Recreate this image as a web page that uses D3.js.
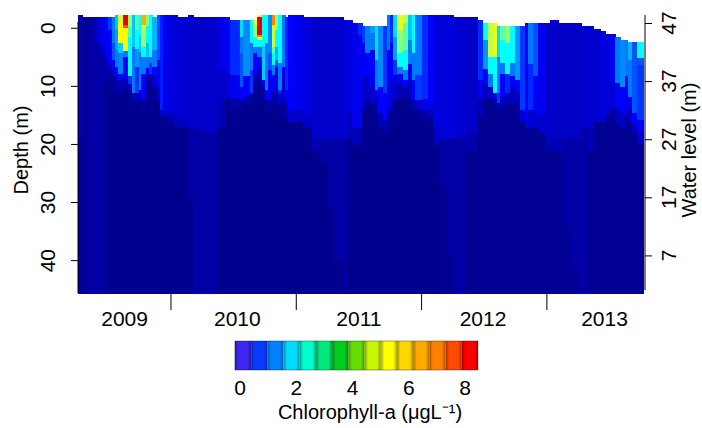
<!DOCTYPE html>
<html>
<head>
<meta charset="utf-8">
<script src="https://cdn.jsdelivr.net/npm/d3@7"></script>
<style>
  body { margin: 0; background: #fff; }
  svg { display: block; font-family: "Liberation Sans", Arial, sans-serif; }
  svg text { fill: #000; font-family: "Liberation Sans", Arial, sans-serif; }
</style>
</head>
<body>
<svg id="chart" width="702" height="428"></svg>
<script>
// ===== data =====
// column start, in decimal years; each column runs to the next start
const colStart = [
  2009.258, 2009.290, 2009.338, 2009.394, 2009.434, 2009.473, 2009.497, 2009.529, 2009.553, 2009.577,
  2009.617, 2009.657, 2009.689, 2009.713, 2009.745, 2009.761, 2009.801, 2009.825, 2009.849, 2009.889,
  2009.912, 2009.936, 2009.976, 2010.032, 2010.056, 2010.136, 2010.176, 2010.272, 2010.367, 2010.431,
  2010.471, 2010.551, 2010.575, 2010.631, 2010.655, 2010.687, 2010.726, 2010.750, 2010.774, 2010.806,
  2010.830, 2010.854, 2010.886, 2010.910, 2010.934, 2010.990, 2011.054, 2011.126, 2011.189, 2011.245,
  2011.301, 2011.373, 2011.405, 2011.445, 2011.493, 2011.525, 2011.549, 2011.589, 2011.628, 2011.652,
  2011.692, 2011.724, 2011.748, 2011.772, 2011.804, 2011.852, 2011.892, 2011.924, 2011.948, 2012.004,
  2012.051, 2012.091, 2012.147, 2012.203, 2012.251, 2012.347, 2012.450, 2012.490, 2012.530, 2012.570,
  2012.602, 2012.626, 2012.666, 2012.706, 2012.746, 2012.786, 2012.826, 2012.849, 2012.889, 2012.929,
  2012.985, 2013.025, 2013.089, 2013.121, 2013.185, 2013.241, 2013.280, 2013.320, 2013.368, 2013.424,
  2013.464, 2013.504, 2013.544, 2013.584, 2013.624, 2013.647, 2013.679, 2013.719
];
const colEnd = 2013.767;

// water level at the column (m)
const waterLevel = [
  48.4, 48.1, 48.1, 48.1, 48.1, 48.1, 48.1, 48.1, 48.4, 48.4,
  48.4, 48.4, 48.4, 48.4, 48.4, 48.4, 48.4, 48.4, 48.1, 48.4,
  48.4, 48.4, 48.4, 48.4, 48.1, 48.4, 48.1, 48.1, 48.1, 48.1,
  47.5, 47.5, 47.5, 47.5, 47.5, 48.4, 48.4, 48.4, 48.4, 48.4,
  48.4, 48.4, 48.4, 48.1, 48.4, 48.4, 48.1, 48.1, 48.1, 48.1,
  48.1, 47.5, 47.5, 46.95, 46.95, 46.5, 46.5, 46.5, 46.5, 46.5,
  46.5, 48.4, 48.4, 48.4, 48.4, 48.4, 48.4, 48.4, 48.4, 48.4,
  48.4, 48.4, 48.4, 48.4, 48.1, 48.1, 47.5, 46.95, 46.95, 46.95,
  46.5, 46.5, 46.5, 46.5, 46.5, 46.5, 46.95, 46.95, 46.95, 46.95,
  46.95, 47.5, 46.95, 46.95, 46.95, 46.95, 46.5, 46.5, 46.0, 45.6,
  45.1, 45.1, 44.6, 44.1, 44.1, 43.8, 43.8, 43.7
];

// chlorophyll-a profile per column: [value (ug/L), bottom (m below the 47 m mark)] from the surface down
const chlRuns = [
  [[0.35,20],[0.2,47]],
  [[0.2,47]],
  [[0.3,47]],
  [[0.55,3.4],[0.3,47]],
  [[0.8,4],[0.5,5.5],[0.3,12],[0.25,47]],
  [[1.0,5.9],[0.55,8],[0.3,10],[0.12,47]],
  [[1.2,1.2],[1.0,6.9],[0.55,8.3],[0.25,11],[0.12,47]],
  [[1.45,3.4],[1.3,6.4],[1.0,8],[0.55,9.2],[0.25,12],[0.12,47]],
  [[1.85,1.1],[1.65,4.6],[1.45,7.5],[1.0,9],[0.5,10],[0.2,13],[0.12,47]],
  [[4.6,0],[5.5,3.5],[1.9,5.2],[1.5,8.7],[1.0,9.8],[0.4,12],[0.12,47]],
  [[8.5,0.3],[7.5,0.9],[5.5,4.9],[1.45,5.8],[1.0,9.5],[0.5,11],[0.12,47]],
  [[3.7,0.6],[2.9,2.4],[2.2,9.2],[1.2,10.5],[0.4,12],[0.12,47]],
  [[1.85,4.1],[1.45,12],[0.55,13.3],[0.12,47]],
  [[2.8,1.2],[2.2,4.4],[1.6,7.5],[1.2,12],[0.5,13.5],[0.12,47]],
  [[2.2,2],[1.85,5],[1.45,11.5],[0.5,13],[0.12,47]],
  [[6.5,0.3],[4.4,1.8],[3.7,4.1],[2.2,5.8],[1.45,8.7],[1.0,13.3],[0.3,15],[0.12,47]],
  [[3.4,0.5],[2.2,3.5],[1.85,5.8],[1.45,7.8],[1.0,9.2],[0.3,12],[0.12,47]],
  [[2.2,5.8],[1.45,6.9],[1.2,8.7],[0.55,9.5],[0.2,12],[0.12,47]],
  [[1.75,4.6],[1.45,7.5],[1.0,9],[0.55,11],[0.2,14],[0.12,47]],
  [[1.3,6.4],[1.0,11],[0.5,13],[0.12,47]],
  [[1.1,15],[0.6,16],[0.12,47]],
  [[0.85,15],[0.53,16],[0.12,47]],
  [[0.7,15.5],[0.45,17],[0.12,47]],
  [[0.62,16.5],[0.4,18],[0.12,47]],
  [[0.62,16.5],[0.4,18],[0.12,47]],
  [[0.55,18],[0.3,30],[0.12,47]],
  [[0.55,18.5],[0.3,47]],
  [[0.55,19],[0.3,47]],
  [[0.75,8],[0.55,13],[0.4,18],[0.12,47]],
  [[1.0,8.5],[0.6,13],[0.12,47]],
  [[1.15,9],[0.85,13],[0.3,15],[0.12,47]],
  [[2.0,2.4],[1.45,5.2],[1.3,11],[1.0,13.3],[0.3,15],[0.12,47]],
  [[1.55,9.2],[1.0,12.7],[0.3,14],[0.12,47]],
  [[2.2,3.5],[1.45,8.1],[1.2,12.1],[0.3,14],[0.12,47]],
  [[5.0,0.3],[3.7,2.4],[2.2,4.1],[1.45,5.2],[1.0,9],[0.3,12],[0.12,47]],
  [[5.5,-1.1],[8.5,2.1],[7.0,2.4],[5.5,2.9],[2.2,4.1],[1.45,5.8],[1.0,8.1],[0.4,10],[0.12,47]],
  [[2.2,4],[1.9,9.8],[1.0,11],[0.3,13],[0.12,47]],
  [[2.2,3.5],[1.45,11.5],[1.0,13.3],[0.3,15],[0.12,47]],
  [[1.55,5.2],[1.3,8.1],[1.0,13.3],[0.3,15],[0.12,47]],
  [[7.0,0.3],[5.9,0.6],[4.4,4.1],[3.1,5.2],[2.2,7.2],[1.45,9],[0.85,12],[0.3,14],[0.12,47]],
  [[3.7,1.2],[2.2,4.1],[1.75,6.4],[1.3,7.5],[0.85,11],[0.3,14],[0.12,47]],
  [[2.2,6.9],[1.45,11.5],[1.15,12.1],[0.6,14],[0.2,16],[0.12,47]],
  [[1.45,7.5],[1.0,9.2],[0.6,13],[0.2,16],[0.12,47]],
  [[1.15,11.5],[0.85,14],[0.4,16],[0.12,47]],
  [[1.0,15],[0.6,17],[0.12,47]],
  [[0.8,15],[0.55,17],[0.12,47]],
  [[0.7,16.1],[0.5,18],[0.12,47]],
  [[0.55,20],[0.4,22],[0.12,47]],
  [[0.55,20],[0.3,24],[0.12,47]],
  [[0.55,20],[0.3,32],[0.12,47]],
  [[0.55,20],[0.3,41],[0.12,47]],
  [[0.68,20],[0.3,47]],
  [[0.68,15],[0.45,20],[0.12,47]],
  [[0.8,18],[0.45,21],[0.12,47]],
  [[1.15,2],[0.9,18],[0.45,21],[0.12,47]],
  [[1.2,3.5],[1.0,9],[0.55,15],[0.12,47]],
  [[1.45,5.2],[1.0,9.2],[0.55,13.3],[0.12,47]],
  [[1.65,1.8],[1.45,4.6],[1.0,11],[0.55,14],[0.12,47]],
  [[2.0,6.4],[1.45,11.5],[1.0,12.7],[0.4,15],[0.12,47]],
  [[1.55,11],[1.0,15.5],[0.4,18],[0.12,47]],
  [[1.2,12.1],[1.0,16.7],[0.4,19],[0.12,47]],
  [[1.45,4.6],[1.0,9.2],[0.8,15],[0.3,18],[0.12,47]],
  [[1.15,3.5],[1.0,10],[0.6,15],[0.12,47]],
  [[2.0,2.4],[1.65,6.4],[1.2,9],[0.6,13],[0.12,47]],
  [[4.8,1.2],[3.7,2.4],[3.4,5.2],[2.2,7.5],[1.45,8.7],[1.0,10.4],[0.4,13],[0.12,47]],
  [[4.2,0],[3.1,4.6],[2.2,8.1],[1.45,9.8],[1.0,11],[0.4,13],[0.12,47]],
  [[1.85,3],[1.45,7],[1.0,10],[0.4,13],[0.12,47]],
  [[2.2,5.2],[1.45,9.8],[1.0,13.3],[0.4,15],[0.12,47]],
  [[1.45,9],[1.2,13.3],[0.55,15],[0.12,47]],
  [[1.15,13],[0.8,15],[0.3,17],[0.12,47]],
  [[1.0,14],[0.6,16],[0.12,47]],
  [[0.7,18],[0.5,21],[0.12,47]],
  [[0.68,20],[0.3,28],[0.15,47]],
  [[0.68,20],[0.3,40],[0.15,47]],
  [[0.6,20],[0.3,47]],
  [[0.53,19],[0.35,22],[0.15,47]],
  [[1.15,9.8],[0.8,13],[0.4,16],[0.15,47]],
  [[2.2,2.9],[1.6,8],[1.0,10.5],[0.4,13],[0.15,47]],
  [[4.4,5.8],[2.2,8.7],[1.45,11],[0.55,13],[0.15,47]],
  [[4.8,5.8],[2.2,12],[1.0,13],[0.3,15],[0.15,47]],
  [[2.0,5.8],[1.45,12],[1.2,13.8],[0.3,15],[0.15,47]],
  [[3.1,2.9],[2.2,6.9],[1.45,8.7],[1.0,12.7],[0.4,15],[0.15,47]],
  [[3.7,3.5],[2.2,8.7],[1.15,12],[0.5,14],[0.15,47]],
  [[2.2,6.9],[1.45,9.2],[1.0,11],[0.45,14],[0.15,47]],
  [[1.6,9.8],[1.0,12.1],[0.45,14],[0.15,47]],
  [[1.2,15],[0.7,17],[0.15,47]],
  [[1.0,16.7],[0.6,18],[0.15,47]],
  [[1.45,7],[1.15,15],[0.6,18],[0.15,47]],
  [[1.3,9.2],[1.0,15],[0.6,18],[0.15,47]],
  [[0.85,16],[0.55,19],[0.15,47]],
  [[0.55,20],[0.4,22],[0.15,47]],
  [[0.55,20],[0.4,22],[0.15,47]],
  [[0.53,20],[0.4,22],[0.15,47]],
  [[0.53,20],[0.3,35],[0.15,47]],
  [[0.53,20],[0.3,42],[0.15,47]],
  [[0.53,20],[0.3,47]],
  [[0.6,18],[0.3,47]],
  [[0.6,18],[0.4,22],[0.15,47]],
  [[0.6,17],[0.15,47]],
  [[0.68,17],[0.15,47]],
  [[0.68,16],[0.15,47]],
  [[0.85,10.4],[0.6,15],[0.15,47]],
  [[1.45,10.4],[1.0,14.4],[0.5,17],[0.15,47]],
  [[1.55,11],[1.0,15.5],[0.5,18],[0.15,47]],
  [[1.45,9.2],[1.0,12.7],[0.6,16],[0.15,47]],
  [[1.75,6.4],[1.45,12.7],[1.0,14.4],[0.5,17],[0.15,47]],
  [[1.3,15.5],[1.0,17.3],[0.5,19],[0.15,47]],
  [[2.2,6.1],[1.3,7.2],[1.2,16.7],[1.0,19],[0.55,21],[0.15,47]]
];

const depthTicks = [0, 10, 20, 30, 40];
const levelTicks = [47, 37, 27, 17, 7];
const refLevel = 47;      // top of the water-level axis
const depthOffset = 0.9;  // depth 0 on the left axis sits this far below the 47 m mark
const yearBreaks = [2010, 2011, 2012, 2013];
const yearLabels = ["2009", "2010", "2011", "2012", "2013"];
const yearLabelAt = [2009.63, 2010.53, 2011.5, 2012.49, 2013.46];

// heat map colour ramp
const chlStops = [0, 0.1, 0.3, 0.5, 0.75, 1.0, 1.4, 1.8, 2.2, 3.4, 4.8, 5.5, 6.3, 7.2, 8.5];
const chlColors = ["#000080", "#00008c", "#0000a5", "#0000c3", "#0000e6", "#0000ff", "#006eff",
  "#00beff", "#00ffff", "#82ff82", "#e6ff1e", "#ffff00", "#ffbe00", "#ff6e00", "#e60000"];

// colour key
const legendColors = ["#3c28f0", "#0a3cff", "#0082ff", "#00dcff", "#00ffcc", "#00e87a", "#00cc1e",
  "#66dd00", "#c8f500", "#ffff00", "#ffd700", "#ffaa00", "#ff7f00", "#ff4a00", "#ff0000"];
const legendTicks = [0, 2, 4, 6, 8];
const legendRange = [-0.18, 8.46];

// ===== layout =====
const svg = d3.select("#chart");
const plot = { left: 78, right: 643, top: 15, bottom: 293 };
const tickFont = 21;
const titleFont = 20;

const x = d3.scaleLinear().domain([colStart[0], colEnd]).range([plot.left, plot.right]);
const y = d3.scaleLinear().domain([-1.38, 46.47]).range([plot.top, plot.bottom]);
const yLevel = d3.scaleLinear().domain([refLevel + 1.38, refLevel - 46.47]).range([plot.top, plot.bottom]);
const yDepth = (d) => y(d + depthOffset);
const color = d3.scaleLinear().domain(chlStops).range(chlColors).clamp(true);

// ---- heat map cells ----
const cells = [];
colStart.forEach((t0, i) => {
  const t1 = i < colStart.length - 1 ? colStart[i + 1] : colEnd;
  let top = refLevel - waterLevel[i];
  chlRuns[i].forEach(([v, bottom]) => {
    const b = Math.min(bottom, y.domain()[1]);
    if (b > top) cells.push({ t0, t1, d0: top, d1: b, v });
    top = Math.max(top, b);
  });
});

svg.append("g")
  .attr("shape-rendering", "crispEdges")
  .selectAll("rect")
  .data(cells)
  .join("rect")
  .attr("x", (d) => x(d.t0))
  .attr("width", (d) => x(d.t1) - x(d.t0) + 0.5)
  .attr("y", (d) => y(d.d0))
  .attr("height", (d) => y(d.d1) - y(d.d0) + 0.5)
  .attr("fill", (d) => color(d.v));

// ---- left axis (depth) ----
const gl = svg.append("g").attr("transform", `translate(${plot.left},0)`);
gl.selectAll(".tk")
  .data(depthTicks)
  .join("line")
  .attr("class", "tk")
  .attr("x1", -7).attr("x2", 0)
  .attr("y1", yDepth).attr("y2", yDepth)
  .attr("stroke", "#000");
gl.append("line").attr("y1", 22).attr("y2", plot.bottom).attr("stroke", "#000");
gl.selectAll(".lbl")
  .data(depthTicks)
  .join("text")
  .attr("class", "lbl")
  .attr("transform", (d) => `translate(-30,${yDepth(d)}) rotate(-90)`)
  .attr("text-anchor", "middle")
  .attr("dy", "0.35em")
  .attr("font-size", tickFont)
  .text((d) => d);

// ---- right axis (water level) ----
const gr = svg.append("g").attr("transform", `translate(${plot.right + 2},0)`);
gr.call(d3.axisRight(yLevel).tickValues(levelTicks).tickSize(7).tickFormat(""));
gr.select(".domain").remove();
gr.append("line").attr("y1", plot.top).attr("y2", 290).attr("stroke", "#000");
gr.selectAll(".lbl")
  .data(levelTicks)
  .join("text")
  .attr("class", "lbl")
  .attr("transform", (d) => `translate(24,${yLevel(d)}) rotate(-90)`)
  .attr("text-anchor", "middle")
  .attr("dy", "0.35em")
  .attr("font-size", tickFont)
  .text((d) => d);

// ---- axis titles ----
svg.append("text")
  .attr("transform", `translate(21,150) rotate(-90)`)
  .attr("text-anchor", "middle").attr("dy", "0.35em").attr("font-size", titleFont)
  .text("Depth (m)");
svg.append("text")
  .attr("transform", `translate(689,150) rotate(-90)`)
  .attr("text-anchor", "middle").attr("dy", "0.35em").attr("font-size", titleFont)
  .text("Water level (m)");

// ---- time axis: year separators + labels ----
svg.append("g")
  .selectAll("line")
  .data(yearBreaks)
  .join("line")
  .attr("x1", (d) => x(d)).attr("x2", (d) => x(d))
  .attr("y1", plot.bottom).attr("y2", 310)
  .attr("stroke", "#000");
svg.append("g")
  .selectAll("text")
  .data(yearLabels)
  .join("text")
  .attr("x", (d, i) => x(yearLabelAt[i]))
  .attr("y", 326)
  .attr("text-anchor", "middle")
  .attr("font-size", tickFont)
  .text((d) => d);

// ---- colour key ----
const lx = d3.scaleLinear().domain([0, 8]).range([240, 465]);
const blockW = (legendRange[1] - legendRange[0]) / legendColors.length;
const defs = svg.append("defs");
legendColors.forEach((c, i) => {
  const dark = d3.color(c).darker(1.2);
  const g = defs.append("linearGradient").attr("id", "lg" + i);
  g.append("stop").attr("offset", "0%").attr("stop-color", dark);
  g.append("stop").attr("offset", "22%").attr("stop-color", c);
  g.append("stop").attr("offset", "78%").attr("stop-color", c);
  g.append("stop").attr("offset", "100%").attr("stop-color", dark);
});
svg.append("g")
  .selectAll("rect")
  .data(legendColors)
  .join("rect")
  .attr("x", (d, i) => lx(legendRange[0] + i * blockW))
  .attr("width", lx(blockW) - lx(0))
  .attr("y", 341)
  .attr("height", 29)
  .attr("fill", (d, i) => `url(#lg${i})`);
svg.append("rect")
  .attr("x", lx(legendRange[0])).attr("width", lx(legendRange[1]) - lx(legendRange[0]))
  .attr("y", 341).attr("height", 29)
  .attr("fill", "none").attr("stroke", "rgba(0,0,0,0.35)").attr("stroke-width", 1);
svg.append("g")
  .selectAll("text")
  .data(legendTicks)
  .join("text")
  .attr("x", (d) => lx(d))
  .attr("y", 395)
  .attr("text-anchor", "middle")
  .attr("font-size", tickFont)
  .text((d) => d);
svg.append("text")
  .attr("x", 370).attr("y", 419)
  .attr("text-anchor", "middle").attr("font-size", titleFont)
  .text("Chlorophyll-a (μgL⁻¹)");
</script>
</body>
</html>
